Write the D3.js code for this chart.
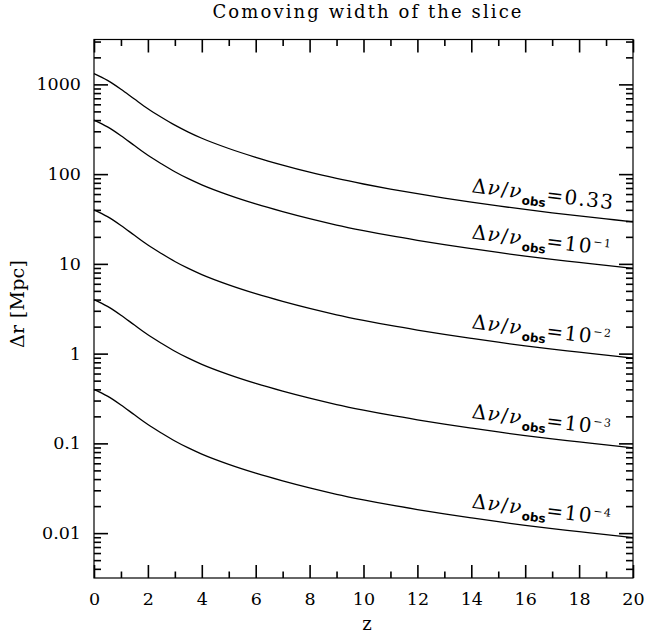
<!DOCTYPE html>
<html>
<head>
<meta charset="utf-8">
<script src="https://cdn.jsdelivr.net/npm/d3@7"></script>
<style>
  body { margin: 0; background: #fff; }
  svg { display: block; }
  text { font-family: "DejaVu Serif", serif; fill: #000; }
</style>
</head>
<body>
<svg id="chart" width="647" height="635"></svg>
<script>
// redshift grid the curves were read at
const zs = [0, 0.5, 1, 1.5, 2, 2.5, 3, 3.5, 4, 5, 6, 7, 8, 9, 10, 11, 12, 13, 14, 15, 16, 17, 18, 19, 20];

// comoving width [Mpc] for each dnu/nu_obs
const width033 = [1320, 1109, 884, 686, 535, 430, 351, 294, 251, 193, 154, 126, 105, 89.5, 77.6, 68.1, 60.5, 54.1, 48.7, 44.2, 40.4, 37.1, 34.2, 31.7, 29.4];
const width1e1 = [400, 336, 268, 208, 162, 130.4, 106.4, 89, 76, 58.4, 46.6, 38.2, 31.9, 27.1, 23.5, 20.6, 18.3, 16.4, 14.8, 13.4, 12.2, 11.2, 10.4, 9.6, 8.92];
const width1e2 = [40, 33.6, 26.8, 20.8, 16.2, 13.04, 10.64, 8.9, 7.6, 5.84, 4.66, 3.82, 3.19, 2.71, 2.35, 2.06, 1.83, 1.64, 1.48, 1.34, 1.22, 1.12, 1.04, 0.96, 0.892];
const width1e3 = [4, 3.36, 2.68, 2.08, 1.62, 1.304, 1.064, 0.89, 0.76, 0.584, 0.466, 0.382, 0.319, 0.271, 0.235, 0.206, 0.183, 0.164, 0.148, 0.134, 0.122, 0.112, 0.104, 0.096, 0.0892];
const width1e4 = [0.4, 0.336, 0.268, 0.208, 0.162, 0.1304, 0.1064, 0.089, 0.076, 0.0584, 0.0466, 0.0382, 0.0319, 0.0271, 0.0235, 0.0206, 0.0183, 0.0164, 0.0148, 0.0134, 0.0122, 0.0112, 0.0104, 0.0096, 0.00892];

// label pieces: "=" value and optional exponent
const labelValue = ["0.33", "10", "10", "10", "10"];
const labelExp = ["", "\u22121", "\u22122", "\u22123", "\u22124"];

const xMajor = [0, 2, 4, 6, 8, 10, 12, 14, 16, 18, 20];
const xMinor = [1, 3, 5, 7, 9, 11, 13, 15, 17, 19];
const yMajor = [0.01, 0.1, 1, 10, 100, 1000];
const yMajorLabels = ["0.01", "0.1", "1", "10", "100", "1000"];

const series = [width033, width1e1, width1e2, width1e3, width1e4];

const svg = d3.select("#chart");

const plotLeft = 94, plotRight = 633, plotTop = 39.5, plotBottom = 578;

const x = d3.scaleLinear().domain([0, 20]).range([plotLeft, plotRight]);
const y = d3.scaleLog().domain([Math.pow(10, -2.5), Math.pow(10, 3.5)]).range([plotBottom, plotTop]);

// minor log ticks 2..9 per decade, inside the domain
const yMinor = [];
for (let e = -3; e <= 3; e++) {
  for (let m = 2; m <= 9; m++) {
    const v = m * Math.pow(10, e);
    if (v > y.domain()[0] && v < y.domain()[1]) yMinor.push(v);
  }
}

// frame
svg.append("rect")
    .attr("x", plotLeft).attr("y", plotTop)
    .attr("width", plotRight - plotLeft).attr("height", plotBottom - plotTop)
    .attr("fill", "none").attr("stroke", "#000").attr("stroke-width", 1.2);

// axes: inward ticks on all four sides, labels on bottom and left
function cleanAxis(g) {
  g.select(".domain").remove();
  g.selectAll(".tick line").attr("stroke", "#000").attr("stroke-width", 1.6);
  g.selectAll(".tick text")
      .attr("fill", "#000")
      .style("font-family", "DejaVu Serif")
      .style("font-size", "17.5px");
}

svg.append("g").attr("transform", "translate(0," + plotBottom + ")")
    .call(d3.axisBottom(x).tickValues(xMajor).tickSizeInner(-13).tickSizeOuter(0).tickPadding(15).tickFormat(d3.format("d")))
    .call(cleanAxis);
svg.append("g").attr("transform", "translate(0," + plotBottom + ")")
    .call(d3.axisBottom(x).tickValues(xMinor).tickSizeInner(-6.5).tickSizeOuter(0).tickFormat(() => ""))
    .call(cleanAxis);
svg.append("g").attr("transform", "translate(0," + plotTop + ")")
    .call(d3.axisTop(x).tickValues(xMajor).tickSizeInner(-13).tickSizeOuter(0).tickFormat(() => ""))
    .call(cleanAxis);
svg.append("g").attr("transform", "translate(0," + plotTop + ")")
    .call(d3.axisTop(x).tickValues(xMinor).tickSizeInner(-6.5).tickSizeOuter(0).tickFormat(() => ""))
    .call(cleanAxis);
svg.append("g").attr("transform", "translate(" + plotLeft + ",0)")
    .call(d3.axisLeft(y).tickValues(yMajor).tickSizeInner(-14).tickSizeOuter(0).tickPadding(13)
      .tickFormat((d, i) => yMajorLabels[i]))
    .call(cleanAxis);
svg.append("g").attr("transform", "translate(" + plotLeft + ",0)")
    .call(d3.axisLeft(y).tickValues(yMinor).tickSizeInner(-7).tickSizeOuter(0).tickFormat(() => ""))
    .call(cleanAxis);
svg.append("g").attr("transform", "translate(" + plotRight + ",0)")
    .call(d3.axisRight(y).tickValues(yMajor).tickSizeInner(-14).tickSizeOuter(0).tickFormat(() => ""))
    .call(cleanAxis);
svg.append("g").attr("transform", "translate(" + plotRight + ",0)")
    .call(d3.axisRight(y).tickValues(yMinor).tickSizeInner(-7).tickSizeOuter(0).tickFormat(() => ""))
    .call(cleanAxis);

// curves
const line = d3.line()
    .x((d, i) => x(zs[i]))
    .y(d => y(d))
    .curve(d3.curveMonotoneX);

series.forEach(function(vals) {
  svg.append("path")
      .datum(vals)
      .attr("d", line)
      .attr("fill", "none")
      .attr("stroke", "#000")
      .attr("stroke-width", 1.3);
});

// curve labels, tilted along the curve
const i14 = zs.indexOf(14), iEnd = zs.length - 1;
series.forEach(function(vals, k) {
  const x0 = x(14), y0 = y(vals[i14]) - 10;
  const ang = Math.atan2(y(vals[iEnd]) - y(vals[i14]), x(20) - x(14)) * 180 / Math.PI;
  const t = svg.append("text")
      .attr("transform", "translate(" + x0 + "," + y0 + ") rotate(" + ang + ")")
      .style("font-size", "20px")
      .style("letter-spacing", "1.4px");
  t.append("tspan").text("\u0394");
  t.append("tspan").style("font-style", "italic").text("\u03bd");
  t.append("tspan").text("/");
  t.append("tspan").style("font-style", "italic").text("\u03bd");
  t.append("tspan").attr("dy", 6)
      .style("font-family", "DejaVu Sans").style("font-weight", "bold")
      .style("font-size", "12px").style("letter-spacing", "0px").text("obs");
  t.append("tspan").attr("dy", -6).text("=" + labelValue[k]);
  if (labelExp[k]) {
    t.append("tspan").attr("dy", -8).style("font-size", "11px").text(labelExp[k]);
  }
});

// title and axis titles
svg.append("text")
    .attr("x", 367).attr("y", 18)
    .attr("text-anchor", "middle")
    .attr("textLength", 309).attr("lengthAdjust", "spacing")
    .style("font-size", "18px")
    .text("Comoving width of the slice");

svg.append("text")
    .attr("x", 367).attr("y", 630)
    .attr("text-anchor", "middle")
    .style("font-size", "18px")
    .text("z");

svg.append("text")
    .attr("transform", "translate(24,304) rotate(-90)")
    .attr("text-anchor", "middle")
    .attr("textLength", 88).attr("lengthAdjust", "spacing")
    .style("font-size", "19px")
    .text("\u0394r [Mpc]");
</script>
</body>
</html>
